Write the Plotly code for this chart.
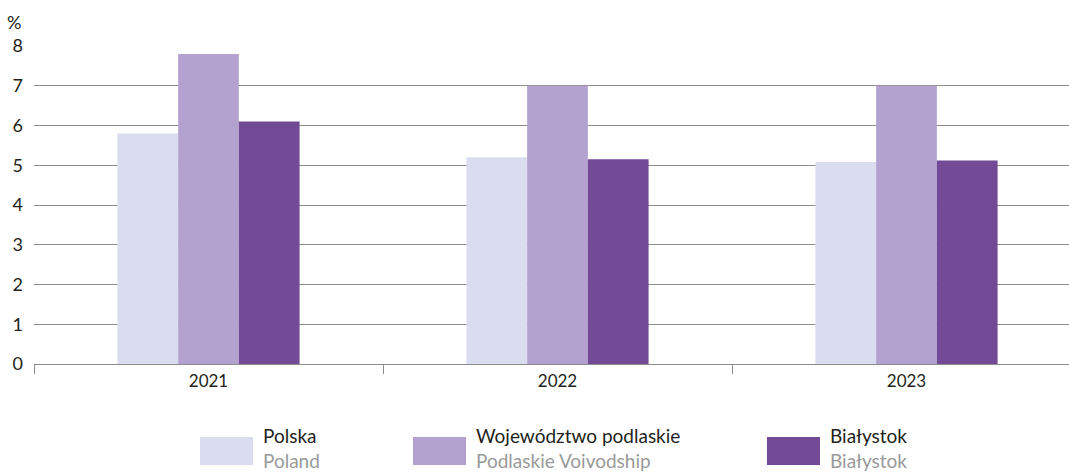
import plotly.graph_objects as go

years = ["2021", "2022", "2023"]
series_pl = ["Polska", "Województwo podlaskie", "Białystok"]
series_en = ["Poland", "Podlaskie Voivodship", "Białystok"]
polska = [5.8, 5.2, 5.08]
podlaskie = [7.8, 7.0, 7.0]
bialystok = [6.1, 5.15, 5.12]
colors = ["#dadcf0", "#b3a2cf", "#724a95"]
y_ticks = [0, 1, 2, 3, 4, 5, 6, 7, 8]

W, H = 1069, 475
ml, mr, mt, mb = 34, 0, 46, 111
FONT = "Lato"
TXT = "#231f20"

fig = go.Figure()
for name, vals, col in zip(series_pl, [polska, podlaskie, bialystok], colors):
    fig.add_trace(go.Bar(x=years, y=vals, name=name, marker=dict(color=col, line=dict(width=0)),
                         showlegend=False))

# each category is 349 px wide; the plot is cut at the right edge of the page
cat_px = 349
plot_w = W - ml - mr
fig.update_layout(
    width=W, height=H,
    margin=dict(l=ml, r=mr, t=mt, b=mb),
    paper_bgcolor="white", plot_bgcolor="white",
    barmode="group", bargap=0.478, bargroupgap=0,
    font=dict(family=FONT, color=TXT),
    xaxis=dict(type="category", range=[-0.5, -0.5 + plot_w / cat_px],
               showgrid=False, showline=True, linecolor="#8c8c8c", linewidth=1,
               ticks="outside", tickson="boundaries", ticklen=9, tickcolor="#8c8c8c",
               tickfont=dict(size=17, family=FONT, color=TXT), ticklabelstandoff=2),
    yaxis=dict(range=[0, 8], tickvals=y_ticks, showgrid=True, gridcolor="#8c8c8c", gridwidth=1,
               zeroline=False, showline=False, ticks="",
               tickfont=dict(size=18, family=FONT, color=TXT), ticklabelstandoff=10),
)

plot_h = H - mt - mb
def px_x(px):
    return (px - ml) / plot_w
def px_y(py):
    return (H - mb - py) / plot_h

fig.add_annotation(text="%", xref="paper", yref="paper", x=px_x(14), y=px_y(22),
                   xanchor="center", yanchor="middle",
                   showarrow=False, font=dict(size=18, family=FONT, color=TXT))

# legend drawn as swatches with two-line labels (Polish / English)
sw_left = [200, 413, 767]
for left, col, pl, en in zip(sw_left, colors, series_pl, series_en):
    fig.add_shape(type="rect", xref="paper", yref="paper",
                  x0=px_x(left), x1=px_x(left + 53), y0=px_y(465), y1=px_y(437),
                  fillcolor=col, line=dict(width=0))
    fig.add_annotation(text=f"{pl}<br><span style='color:#9a9a9a'>{en}</span>",
                       xref="paper", yref="paper", x=px_x(left + 61), y=px_y(474),
                       xanchor="left", yanchor="bottom", align="left", showarrow=False,
                       font=dict(size=19, family=FONT, color=TXT))

fig.write_html("out.html")
